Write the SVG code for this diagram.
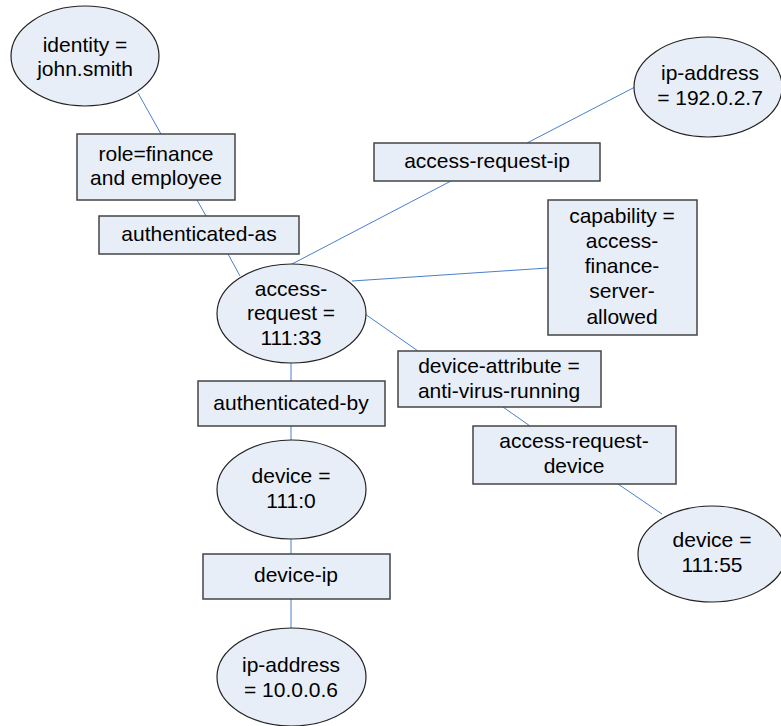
<svg xmlns="http://www.w3.org/2000/svg" width="781" height="726" viewBox="0 0 781 726">
<style>
.n{fill:#E8EEF7;stroke:#222;stroke-width:1.2}
.b{fill:#E8EEF7;stroke:#444;stroke-width:1.5}
.e{stroke:#4A7FCC;stroke-width:1;fill:none}
text{font-family:"Liberation Sans",Arial,sans-serif;font-size:21px;fill:#000;text-anchor:middle}
</style>
<rect width="781" height="726" fill="#fff"/>
<g id="connectors">
<line class="e" x1="138" y1="93" x2="161" y2="134"/>
<line class="e" x1="197" y1="200" x2="206" y2="216"/>
<line class="e" x1="228" y1="254" x2="240" y2="276"/>
<line class="e" x1="635" y1="87" x2="527" y2="143"/>
<line class="e" x1="451" y1="181" x2="292" y2="264"/>
<line class="e" x1="548" y1="268" x2="352" y2="281"/>
<line class="e" x1="365" y1="314" x2="418" y2="351"/>
<line class="e" x1="503" y1="407" x2="530" y2="426"/>
<line class="e" x1="618" y1="484" x2="662" y2="514"/>
<line class="e" x1="291" y1="363" x2="291" y2="381"/>
<line class="e" x1="291" y1="426" x2="291" y2="440"/>
<line class="e" x1="291" y1="539" x2="291" y2="554"/>
<line class="e" x1="291" y1="599" x2="291" y2="628"/>
</g>
<g id="identity">
<ellipse class="n" cx="85" cy="56" rx="74" ry="50"/>
<text x="85" y="52">identity =</text>
<text x="85" y="76">john.smith</text>
</g>
<g id="role">
<rect class="b" x="77" y="134" width="158" height="66"/>
<text x="156" y="161">role=finance</text>
<text x="156" y="185">and employee</text>
</g>
<g id="authenticated-as">
<rect class="b" x="99" y="216" width="200" height="38"/>
<text x="199" y="241">authenticated-as</text>
</g>
<g id="ip-address-1">
<ellipse class="n" cx="708" cy="87" rx="74" ry="50"/>
<text x="710" y="80">ip-address</text>
<text x="710" y="105">= 192.0.2.7</text>
</g>
<g id="access-request-ip">
<rect class="b" x="374" y="143" width="226" height="38"/>
<text x="487" y="168">access-request-ip</text>
</g>
<g id="capability">
<rect class="b" x="548" y="200" width="149" height="135"/>
<text x="622" y="223">capability =</text>
<text x="622" y="248">access-</text>
<text x="622" y="273">finance-</text>
<text x="622" y="298">server-</text>
<text x="622" y="324">allowed</text>
</g>
<g id="access-request">
<ellipse class="n" cx="291.5" cy="313.5" rx="74.5" ry="49.5"/>
<text x="291" y="296">access-</text>
<text x="291" y="320">request =</text>
<text x="291" y="345">111:33</text>
</g>
<g id="device-attribute">
<rect class="b" x="398" y="351" width="203" height="56"/>
<text x="499" y="373">device-attribute =</text>
<text x="499" y="398">anti-virus-running</text>
</g>
<g id="access-request-device">
<rect class="b" x="473" y="426" width="203" height="58"/>
<text x="574" y="448">access-request-</text>
<text x="574" y="473">device</text>
</g>
<g id="device-2">
<ellipse class="n" cx="712" cy="554" rx="74" ry="48"/>
<text x="712" y="547">device =</text>
<text x="712" y="572">111:55</text>
</g>
<g id="authenticated-by">
<rect class="b" x="198" y="381" width="187" height="45"/>
<text x="291" y="410">authenticated-by</text>
</g>
<g id="device-1">
<ellipse class="n" cx="291.5" cy="489.5" rx="74.5" ry="49.5"/>
<text x="291" y="483">device =</text>
<text x="291" y="508">111:0</text>
</g>
<g id="device-ip">
<rect class="b" x="203" y="554" width="187" height="45"/>
<text x="296" y="582">device-ip</text>
</g>
<g id="ip-address-2">
<ellipse class="n" cx="291.5" cy="677" rx="74.5" ry="49"/>
<text x="291" y="672">ip-address</text>
<text x="291" y="697">= 10.0.0.6</text>
</g>
</svg>
